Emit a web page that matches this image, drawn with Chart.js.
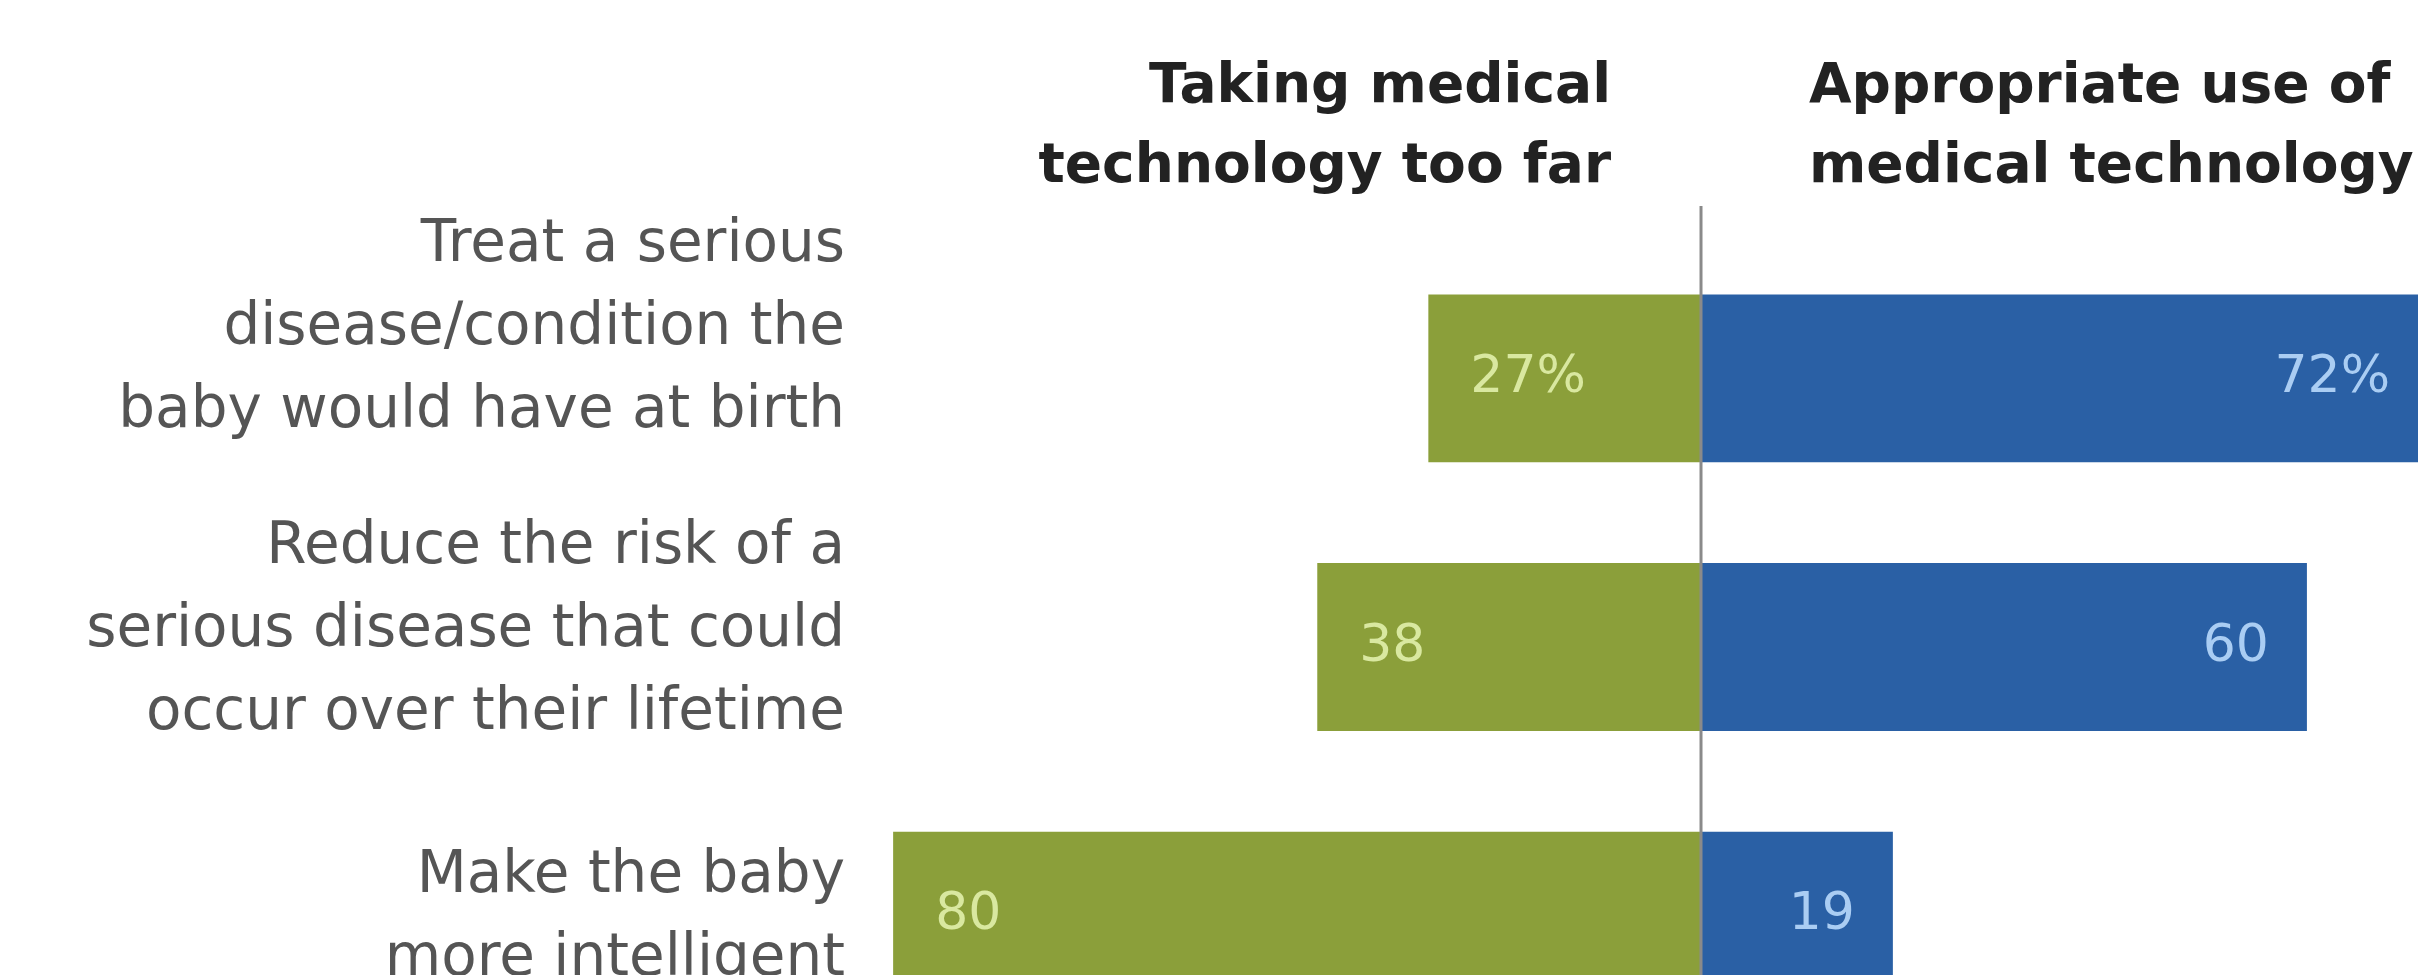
<!DOCTYPE html>
<html>
<head>
<meta charset="utf-8">
<script src="https://cdn.jsdelivr.net/npm/chart.js@4/dist/chart.umd.min.js"></script>
<style>
    html, body { margin: 0; padding: 0; background: #fff; overflow: hidden; }
    #wrap { width: 2418px; height: 1110px; position: relative; }
</style>
</head>
<body>
<div id="wrap"><canvas id="genChart"></canvas></div>
<script>
// Data
const categories = [
    ["Treat a serious", "disease/condition the", "baby would have at birth"],
    ["Reduce the risk of a", "serious disease that could", "occur over their lifetime"],
    ["Make the baby", "more intelligent"]
];
const seriesNames = [
    ["Taking medical", "technology too far"],
    ["Appropriate use of", "medical technology"]
];
const tooFar = [27, 38, 80];
const appropriate = [72, 60, 19];

const green = "#8b9f3a";
const blue = "#2a60a5";
// small vertical nudges for the row labels (they sit a bit above the bars)
const labelShift = [-55, -22, -3];

const FONT = "'DejaVu Sans', sans-serif";

const labelsPlugin = {
    id: "divergingLabels",
    afterDatasetsDraw(chart) {
        const c = chart.ctx;
        const xs = chart.scales.x;
        const ys = chart.scales.y;
        const zeroX = xs.getPixelForValue(0);

        // center divider
        c.save();
        c.strokeStyle = "#8a8a8a";
        c.lineWidth = 3;
        c.beginPath();
        c.moveTo(zeroX, 206);
        c.lineTo(zeroX, chart.height);
        c.stroke();

        // value labels inside bars
        c.font = "52px " + FONT;
        c.textBaseline = "middle";
        chart.data.datasets.forEach((ds, di) => {
            const meta = chart.getDatasetMeta(di);
            meta.data.forEach((bar, i) => {
                const v = Math.abs(ds.data[i]);
                const txt = i === 0 ? v + "%" : String(v);
                if (di === 0) {
                    c.fillStyle = "#d9e8a0";
                    c.textAlign = "left";
                    c.fillText(txt, bar.x + 42, bar.y);
                } else {
                    c.fillStyle = "#aacdf3";
                    c.textAlign = "right";
                    c.fillText(txt, bar.x - 38, bar.y);
                }
            });
        });

        // row labels
        c.font = "58px " + FONT;
        c.fillStyle = "#555555";
        c.textAlign = "right";
        c.textBaseline = "alphabetic";
        const lh = 83;
        categories.forEach((lines, i) => {
            const mid = ys.getPixelForValue(i) + labelShift[i];
            lines.forEach((ln, j) => {
                const y = mid - (lines.length - 1) / 2 * lh + j * lh + 21;
                c.fillText(ln, 845, y);
            });
        });

        // column headers
        c.font = "bold 55px " + FONT;
        c.fillStyle = "#222222";
        c.textAlign = "right";
        seriesNames[0].forEach((ln, j) => c.fillText(ln, zeroX - 90, 102 + j * 80));
        c.textAlign = "left";
        seriesNames[1].forEach((ln, j) => c.fillText(ln, zeroX + 108, 102 + j * 80));
        c.restore();
    }
};

const ctx = document.getElementById("genChart").getContext("2d");
const genChart = new Chart(ctx, {
    type: "bar",
    data: {
        labels: categories.map(l => l.join(" ")),
        datasets: [
            {
                label: seriesNames[0].join(" "),
                data: tooFar.map(v => -v),
                backgroundColor: green,
                borderWidth: 0
            },
            {
                label: seriesNames[1].join(" "),
                data: appropriate,
                backgroundColor: blue,
                borderWidth: 0
            }
        ]
    },
    options: {
        indexAxis: "y",
        responsive: true,
        maintainAspectRatio: false,
        animation: false,
        datasets: {
            bar: { categoryPercentage: 1, barPercentage: 0.625 }
        },
        layout: {
            padding: { left: 880, right: 0, top: 244, bottom: 60 }
        },
        scales: {
            x: {
                stacked: true,
                min: -81.3,
                max: 71.0,
                display: false
            },
            y: {
                stacked: true,
                display: false
            }
        },
        plugins: {
            legend: { display: false },
            tooltip: { enabled: false }
        }
    },
    plugins: [labelsPlugin]
});
</script>
</body>
</html>
